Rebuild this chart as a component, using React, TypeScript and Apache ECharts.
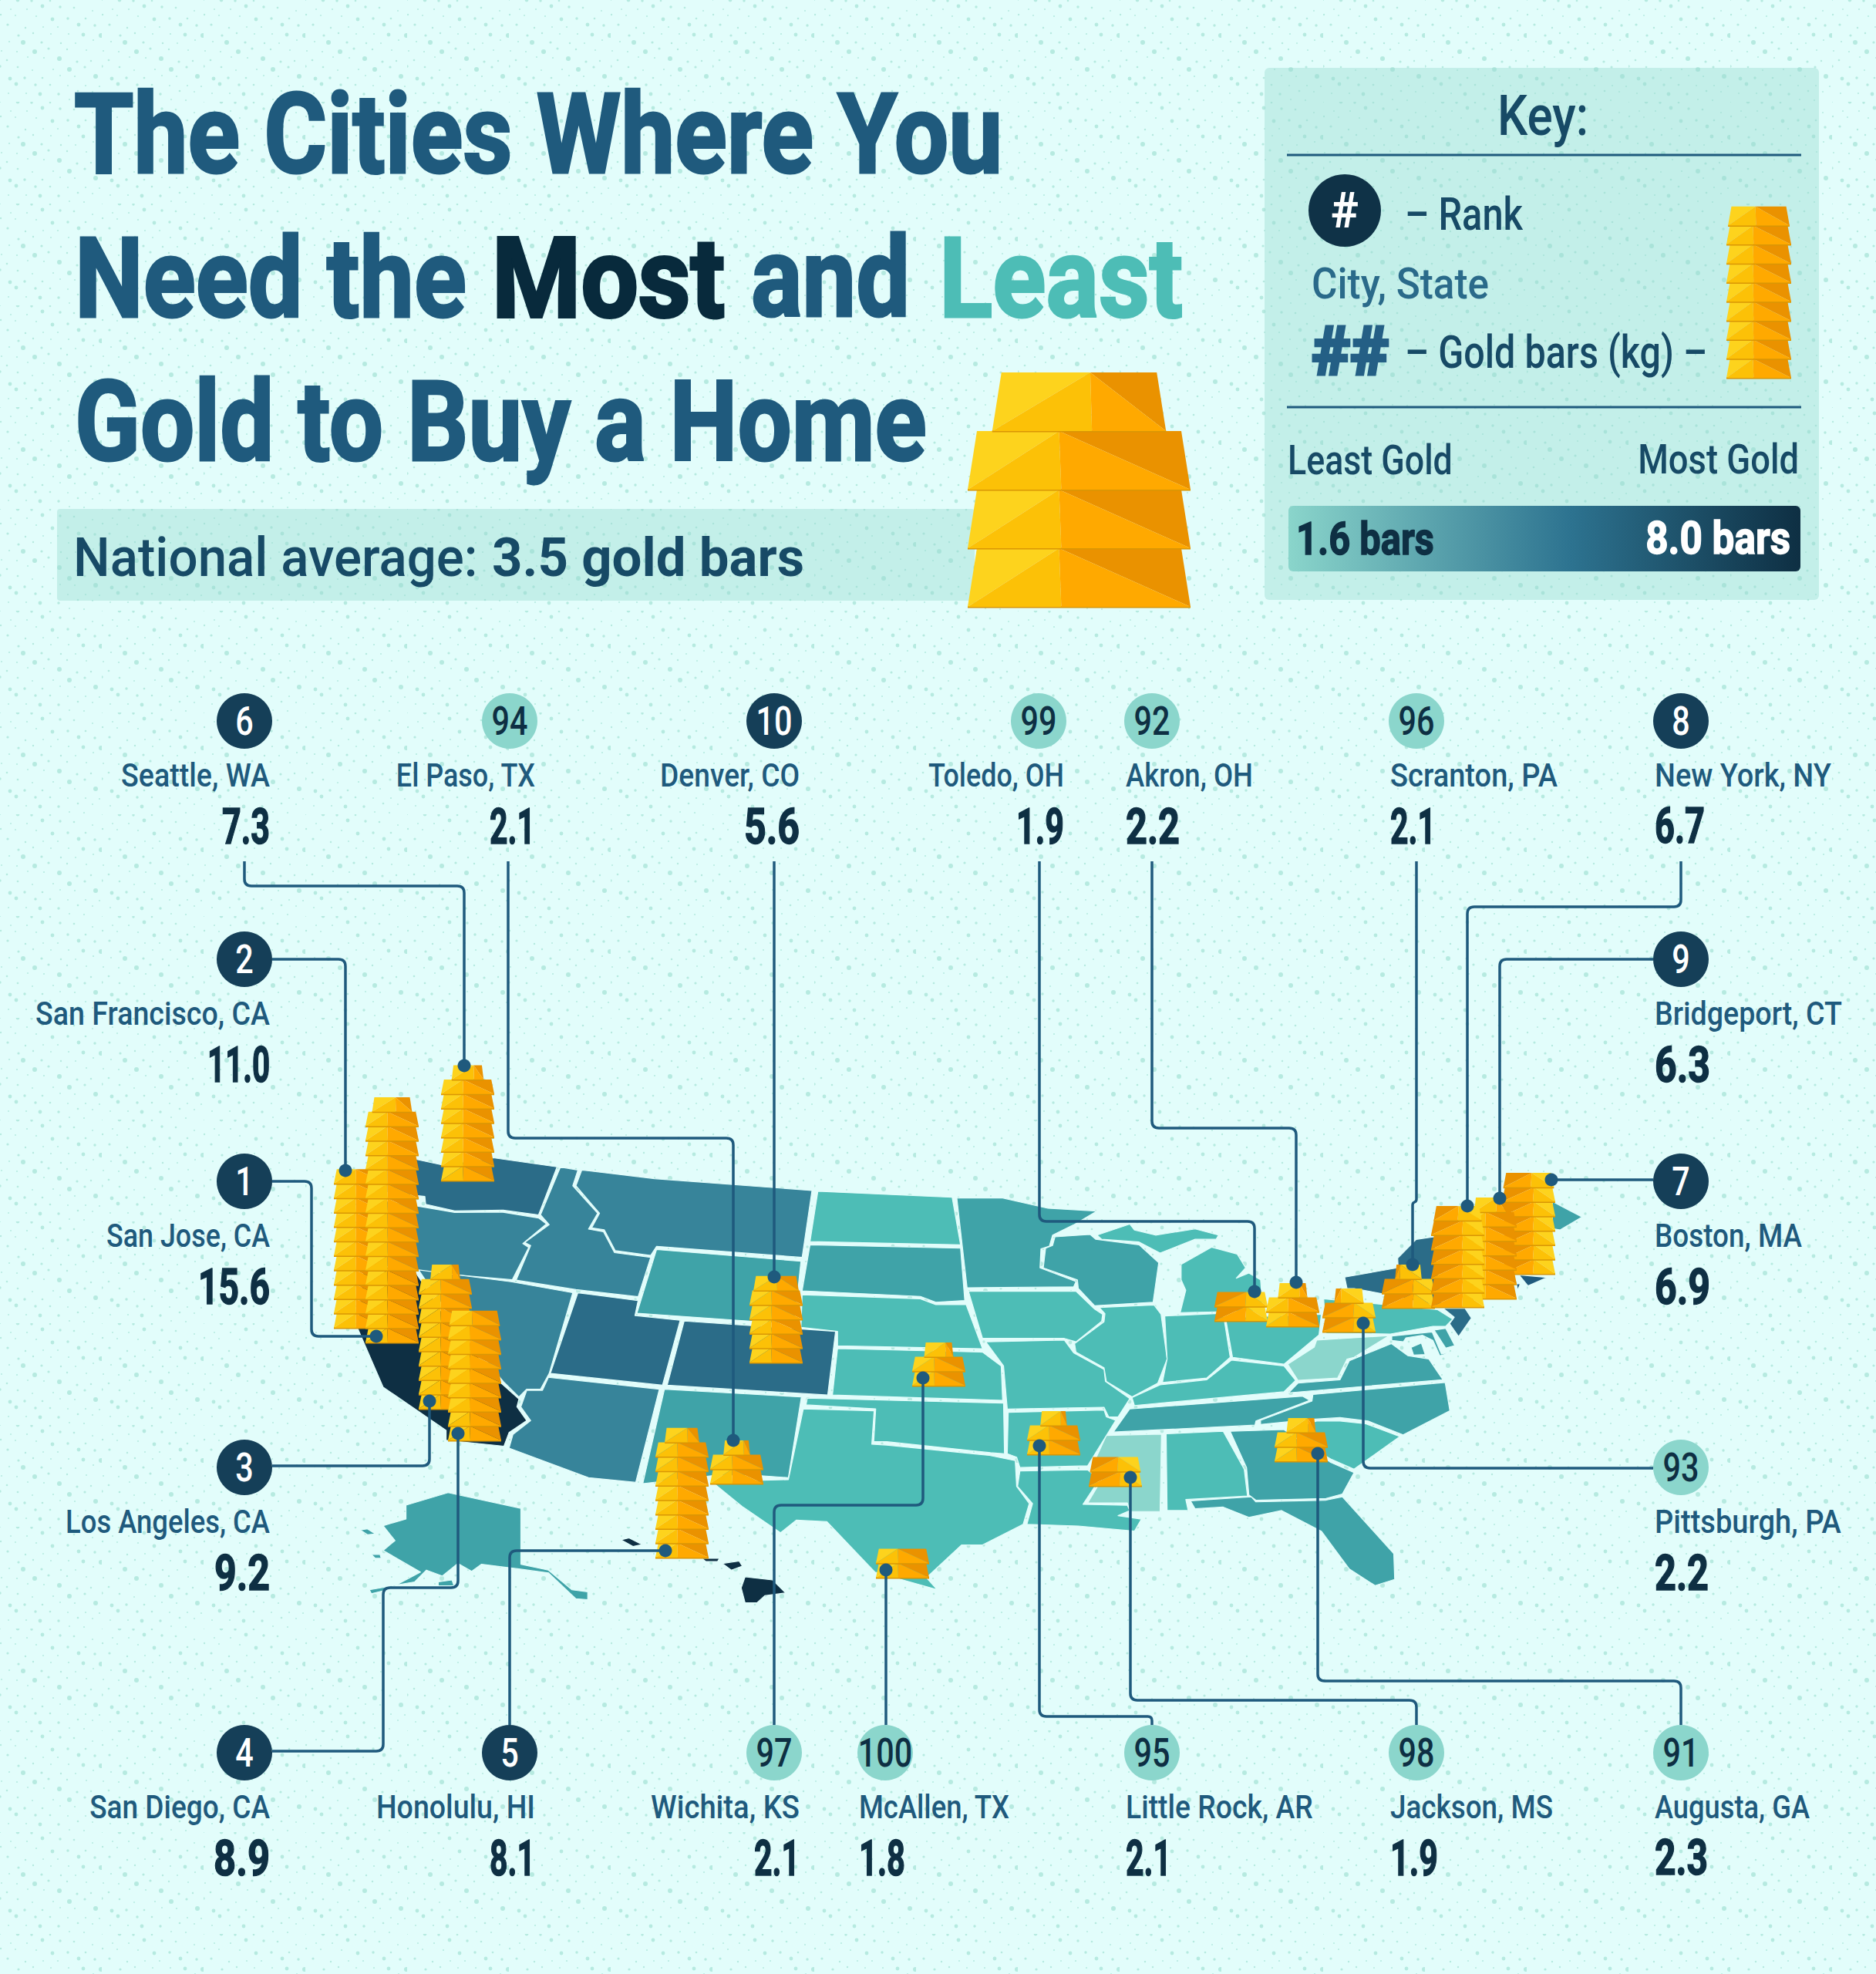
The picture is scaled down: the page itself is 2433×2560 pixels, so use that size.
import { useEffect, useRef } from 'react';
import * as echarts from 'echarts';

const WIDTH = 2433;
const HEIGHT = 2560;
const FONT = '"Liberation Sans Narrow", Roboto, sans-serif';
const BG = '#e2fdfb';

const NAVY = '#0e2f43';
const BLUE = '#1f5a7d';
const DARK = '#2b6c88';
const STEEL = '#37849a';
const MID = '#3fa3a8';
const TEAL = '#4dbdb6';
const PALE = '#8bd6cc';

// cities, in draw order of the gold stacks (back to front)
const cities = ['San Francisco, CA', 'San Jose, CA', 'Los Angeles, CA', 'San Diego, CA', 'Seattle, WA', 'Honolulu, HI', 'El Paso, TX', 'Denver, CO', 'Wichita, KS', 'McAllen, TX', 'Little Rock, AR', 'Jackson, MS', 'Augusta, GA', 'Toledo, OH', 'Akron, OH', 'Pittsburgh, PA', 'Boston, MA', 'Bridgeport, CT', 'Scranton, PA', 'New York, NY'];
const ranks = [2, 1, 3, 4, 6, 5, 94, 10, 97, 100, 95, 98, 91, 99, 92, 93, 7, 9, 96, 8];
const goldKg = ['11.0', '15.6', '9.2', '8.9', '7.3', '8.1', '2.1', '5.6', '2.1', '1.8', '2.1', '1.9', '2.3', '1.9', '2.2', '2.2', '6.9', '6.3', '2.1', '6.7'];
const tierCounts = [11, 17, 10, 9, 8, 9, 3, 6, 3, 2, 3, 2, 3, 2, 3, 3, 7, 7, 3, 7];
const topBarWidth = [1, 0.75, 0.56, 0.95, 0.6, 0.65, 0.5, 0.85, 0.55, 1, 0.5, 0.95, 0.55, 1, 0.55, 0.55, 0.95, 0.6, 0.5, 0.9];
const stackLeft = [433, 474, 543, 581, 572, 850, 921, 972, 1183, 1136, 1332, 1412, 1653, 1575, 1642, 1715, 1948, 1898, 1792, 1856];
const stackBottom = [1722, 1741, 1827, 1868, 1531, 2020, 1924, 1767, 1797, 2046, 1886, 1927, 1895, 1713, 1720, 1727, 1652, 1684, 1696, 1695];
const stackFlipped = [false, false, false, false, false, false, false, false, false, false, false, true, false, true, false, true, true, false, true, true];
const badgeX = [317, 317, 317, 317, 317, 661, 661, 1004, 1004, 1148, 1494, 1837, 2180, 1347, 1494, 2180, 2180, 2180, 1837, 2180];
const badgeY = [1244, 1532, 1903, 2273, 935, 2273, 935, 935, 2273, 2273, 2273, 2273, 2273, 935, 935, 1903, 1532, 1244, 935, 935];
const labelSide = ['r', 'r', 'r', 'r', 'r', 'r', 'r', 'r', 'r', 'l', 'l', 'l', 'l', 'r', 'l', 'l', 'l', 'l', 'l', 'l'];

// the reference's condensed face has its own widths, so each label gets squeezed to what it measures there
const cityWidths = [304, 212, 265, 234, 193, 206, 181, 181, 193, 196, 243, 211, 201, 176, 165, 242, 191, 243, 217, 229];
const valueWidths: Record<string, number> = { '11.0': 81, '15.6': 93, '9.2': 72, '8.9': 73, '7.3': 62, '8.1': 59, '2.1': 59, '5.6': 72, '1.8': 60, '1.9': 62, '2.3': 69, '2.2': 70, '6.9': 72, '6.3': 72, '6.7': 65 };

// leader lines, last point carries the dot
const leaders: number[][][] = [
  [[353, 1244], [448, 1244], [448, 1518]],
  [[353, 1532], [404, 1532], [404, 1733], [488, 1733]],
  [[353, 1901], [557, 1901], [557, 1817]],
  [[353, 2271], [497, 2271], [497, 2059], [594, 2059], [594, 1859]],
  [[317, 1117], [317, 1149], [602, 1149], [602, 1382]],
  [[661, 2237], [661, 2011], [863, 2011]],
  [[659, 1117], [659, 1476], [951, 1476], [951, 1868]],
  [[1004, 1117], [1004, 1656]],
  [[1004, 2237], [1004, 1952], [1197, 1952], [1197, 1787]],
  [[1149, 2237], [1149, 2036]],
  [[1494, 2237], [1494, 2226], [1348, 2226], [1348, 1875]],
  [[1837, 2237], [1837, 2205], [1466, 2205], [1466, 1916]],
  [[2180, 2237], [2180, 2180], [1709, 2180], [1709, 1885]],
  [[1348, 1117], [1348, 1584], [1627, 1584], [1627, 1675]],
  [[1494, 1117], [1494, 1463], [1681, 1463], [1681, 1663]],
  [[2144, 1904], [1768, 1904], [1768, 1716]],
  [[2144, 1530], [2012, 1530]],
  [[2144, 1244], [1945, 1244], [1945, 1554]],
  [[1837, 1117], [1837, 1558], [1832, 1560], [1832, 1640]],
  [[2180, 1117], [2180, 1176], [1903, 1176], [1903, 1564]],
];

type P = number[];
const w = (...a: number[]): P[] => { const r: P[] = []; for (let i = 0; i < a.length; i += 2) r.push([400 + a[i] / 1.96, 1350 + a[i + 1] / 1.96]); return r; };
const e = (...a: number[]): P[] => { const r: P[] = []; for (let i = 0; i < a.length; i += 2) r.push([1150 + a[i] / 1.65, 1450 + a[i + 1] / 2.24]); return r; };
const n = (...a: number[]): P[] => { const r: P[] = []; for (let i = 0; i < a.length; i += 2) r.push([1780 + a[i] / 3, 1500 + a[i + 1] / 3]); return r; };

const stateFills = [
  DARK, STEEL, NAVY, STEEL, STEEL, STEEL, MID, DARK, DARK, STEEL, MID, // WA..NM
  TEAL, MID, TEAL, TEAL, TEAL, TEAL, // ND..TX
  MID, MID, TEAL, TEAL, TEAL, TEAL, TEAL, TEAL, TEAL, MID, PALE, MID, MID, TEAL, MID, PALE, TEAL, TEAL, TEAL, TEAL, // MN..MO
  DARK, DARK, TEAL, MID, MID, MID, BLUE, BLUE, MID, // NY..ME
  MID, // FL
  MID, MID, MID, MID, // AK
  NAVY, NAVY, NAVY, NAVY, // HI
];
const stateShapes: P[][] = [
  w(200, 285, 340, 315, 470, 297, 632, 320, 585, 442, 495, 430, 372, 432, 298, 415, 296, 395, 200, 385), // WA
  w(160, 400, 280, 420, 372, 436, 492, 435, 585, 450, 605, 465, 545, 515, 560, 525, 518, 607, 150, 575), // OR
  w(125, 730, 190, 880, 350, 990, 350, 1015, 497, 1030, 510, 995, 555, 965, 530, 930, 535, 910, 490, 870, 360, 720, 270, 585, 140, 565), // CA
  w(280, 582, 515, 612, 672, 640, 612, 845, 590, 885, 555, 885, 535, 905, 495, 865, 370, 715), // NV
  w(650, 322, 685, 328, 672, 368, 735, 438, 712, 478, 750, 485, 778, 538, 870, 550, 838, 650, 680, 632, 528, 608, 565, 520, 550, 512, 612, 467, 590, 442, 640, 322), // ID
  w(695, 328, 880, 350, 1280, 380, 1255, 550, 885, 522, 870, 545, 780, 533, 752, 480, 720, 475, 740, 438, 680, 368), // MT
  w(885, 530, 1252, 560, 1235, 720, 835, 692), // WY
  w(685, 640, 838, 660, 830, 698, 945, 710, 900, 875, 615, 845), // UT
  w(955, 712, 1340, 738, 1320, 900, 912, 875), // CO
  w(610, 855, 892, 885, 832, 1122, 712, 1110, 510, 1035, 520, 1000, 565, 965, 540, 930, 555, 888, 595, 888), // AZ
  w(905, 885, 1253, 905, 1220, 1110, 1150, 1105, 1025, 1105, 850, 1125), // NM
  [...w(1295, 382), ...e(140, 230, 158, 368), ...w(1275, 510)], // ND
  [...w(1275, 518), ...e(158, 378, 167, 530, 105, 535, 72, 518), ...w(1255, 635)], // SD
  [...w(1255, 645), ...e(72, 525, 105, 542, 170, 542, 205, 670), ...w(1345, 775, 1345, 738, 1252, 728)], // NE
  [...w(1345, 782), ...e(205, 680, 245, 720, 248, 820), ...w(1332, 900)], // KS
  [...w(1268, 908), ...e(250, 828, 252, 975, 222, 972, 0, 940), ...w(1437, 1018, 1442, 935, 1265, 925)], // OK
  [...w(1258, 935, 1438, 940, 1432, 1025), ...e(0, 950, 220, 980, 275, 995, 278, 1070, 305, 1120, 292, 1180, 205, 1240, 160, 1240, 85, 1335, 108, 1370), ...w(1440, 1350, 1318, 1222, 1240, 1218, 1200, 1250, 1105, 1185, 1025, 1120, 1220, 1115)], // TX
  e(150, 232, 248, 232, 345, 262, 450, 270, 400, 310, 355, 340, 348, 372, 330, 380, 328, 435, 405, 475, 400, 490, 172, 493, 162, 375), // MN
  e(360, 345, 435, 338, 447, 352, 540, 368, 582, 420, 570, 535, 445, 545, 410, 495, 408, 470, 335, 435, 340, 378, 355, 370), // WI
  e(450, 340, 520, 308, 530, 325, 575, 340, 660, 322, 710, 340, 705, 352, 660, 352, 585, 392, 540, 360, 460, 352), // MI upper
  e(695, 375, 750, 395, 768, 435, 748, 465, 775, 450, 800, 470, 805, 560, 628, 565, 640, 500, 630, 470, 630, 425), // MI lower
  e(175, 503, 405, 503, 445, 555, 462, 570, 460, 590, 405, 650, 380, 640, 205, 640), // IA
  e(455, 550, 572, 543, 587, 570, 600, 700, 580, 770, 525, 810, 470, 765, 465, 725, 405, 680, 402, 655, 465, 592, 467, 568), // IL
  e(595, 575, 720, 567, 735, 695, 685, 755, 590, 768, 600, 700), // IN
  e(725, 580, 930, 570, 925, 630, 850, 715, 740, 695), // OH
  e(738, 703, 850, 720, 875, 762, 850, 795, 530, 835, 525, 812, 585, 775, 685, 760), // KY
  e(520, 845, 890, 808, 905, 820, 790, 880, 788, 892, 485, 912), // TN
  e(920, 645, 1075, 632, 1000, 695, 985, 700, 965, 755, 880, 762, 858, 715, 915, 665), // WV
  e(1080, 655, 1115, 690, 1160, 700, 1190, 760, 860, 798, 880, 770, 970, 760, 990, 705), // VA
  e(1195, 768, 1205, 850, 1105, 920, 1030, 880, 970, 870, 910, 875, 800, 890, 800, 878, 910, 822, 912, 803), // NC
  e(920, 880, 970, 880, 1025, 888, 1098, 925, 1000, 1020, 950, 990, 850, 910), // SC
  e(735, 910, 850, 905, 950, 1000, 1000, 1030, 975, 1092, 940, 1105, 790, 1110, 775, 1095, 770, 1015), // GA
  e(470, 922, 588, 918, 585, 1143, 520, 1143, 515, 1118, 430, 1118, 460, 1050, 437, 1020), // MS
  e(598, 917, 720, 910, 765, 1020, 772, 1098, 640, 1108, 645, 1140, 600, 1140), // AL
  e(285, 1025, 430, 1022, 455, 1050, 420, 1122, 515, 1125, 520, 1140, 495, 1155, 545, 1165, 530, 1200, 410, 1185, 300, 1180, 312, 1120, 280, 1070), // LA
  e(260, 855, 465, 848, 470, 868, 490, 878, 430, 1010, 285, 1015, 278, 985, 258, 975), // AR
  e(212, 650, 380, 645, 400, 682, 465, 730, 468, 765, 520, 815, 495, 868, 475, 868, 465, 840, 258, 845, 250, 720), // MO
  [...e(980, 462), ...n(100, 432, 98, 395, 170, 322, 240, 312, 270, 585, 30, 532), ...e(1000, 495, 985, 495)], // NY
  n(275, 590, 360, 590, 385, 628, 335, 700, 300, 650, 318, 625), // NJ
  [...e(935, 525), ...n(252, 595, 312, 632, 285, 660, 235, 660, 70, 690), ...e(940, 625)], // PA
  n(75, 698, 232, 682, 268, 768, 330, 755, 262, 775, 235, 715, 195, 695, 130, 705, 120, 720, 75, 715), // MD
  n(150, 742, 190, 725, 205, 770, 160, 772), // MD south
  n(240, 675, 285, 668, 320, 735, 285, 745), // DE
  n(570, 460, 680, 470, 605, 503), // Long Island
  n(560, 495, 575, 495, 565, 520), // RI
  n(700, 175, 815, 235, 730, 285, 700, 280), // ME
  e(650, 1112, 780, 1100, 790, 1115, 940, 1110, 975, 1100, 1085, 1265, 1087, 1340, 1045, 1358, 990, 1310, 930, 1200, 845, 1140, 775, 1160, 720, 1130, 660, 1135), // FL
  w(355, 1148, 540, 1188, 540, 1330, 610, 1345, 670, 1395, 710, 1400, 710, 1420, 680, 1418, 610, 1352, 535, 1342, 440, 1330, 415, 1348, 380, 1328, 340, 1360, 300, 1345, 270, 1375, 155, 1395, 160, 1405, 200, 1395, 285, 1350, 190, 1295, 220, 1270, 190, 1232, 248, 1215, 248, 1180), // AK
  w(132, 1243, 150, 1240, 170, 1253, 150, 1255), // AK islands
  w(160, 1305, 182, 1305, 185, 1315, 170, 1315),
  w(330, 1375, 365, 1370, 370, 1385, 330, 1385),
  w(795, 1268, 815, 1263, 848, 1280, 825, 1285), // HI
  w(1000, 1315, 1045, 1315, 1040, 1323, 1010, 1323),
  w(1052, 1328, 1095, 1322, 1103, 1335, 1075, 1345),
  w(1100, 1390, 1110, 1362, 1180, 1370, 1213, 1403, 1160, 1410, 1140, 1428, 1110, 1428),
];

const canvasCtx = document.createElement('canvas').getContext('2d') as CanvasRenderingContext2D;
const fit = (text: string, size: number, weight: number, target: number) => {
  canvasCtx.font = `${weight} ${size}px ${FONT}`;
  return target / canvasCtx.measureText(text).width;
};

// speckle tile for the background
const speckleTile = () => {
  const c = document.createElement('canvas');
  c.width = 132;
  c.height = 132;
  const g = c.getContext('2d') as CanvasRenderingContext2D;
  g.fillStyle = BG;
  g.fillRect(0, 0, 132, 132);
  g.fillStyle = '#b6eae0';
  const jitter = [0, 2, -2, 1, -1, 3, -3, 0, 2, -1, 1];
  const radii = [1.1, 1.6, 1, 2.4, 1.2, 1.1, 1.7, 1, 3, 1.3];
  for (let r = 0; r < 12; r++) {
    for (let k = 0; k < 6; k++) {
      const x = (k * 22 + (r % 2) * 11 + jitter[(r * 5 + k * 3) % 11] + 132) % 132;
      const y = (r * 11 + jitter[(r * 3 + k * 7) % 11] + 132) % 132;
      g.beginPath();
      g.arc(x, y, radii[(r * 7 + k * 3) % 10], 0, Math.PI * 2);
      g.fill();
    }
  }
  return c;
};

const tierShapes = (api: any, x0: number, width: number, yb: number, th: number, flip: boolean, topW: number, children: any[]) => {
  const inset = Math.min(width * 0.055, 12);
  const x1 = x0 + width;
  const yt = yb - th;
  // a narrowed top bar looks cropped, so its ridge sits further over
  const split = flip ? 0.58 - (1 - topW) * 0.8 : 0.42 + (1 - topW) * 0.7;
  const cb = x0 + width * split;
  const ct = x0 + width * (flip ? split + 0.02 : split - 0.01);
  const poly = (pts: number[][], fill: string) =>
    children.push({ type: 'polygon', shape: { points: pts.map(q => api.coord(q)) }, style: { fill } });
  poly([[x0, yb + 1.5], [x1, yb + 1.5], [x1, yb - 1], [x0, yb - 1]], '#d99605');
  if (flip) {
    poly([[x1, yb], [x1 - inset, yt], [ct, yt]], '#fdd31d');
    poly([[x1, yb], [ct, yt], [cb, yb]], '#fcc107');
    poly([[ct, yt], [x0 + inset, yt], [x0, yb]], '#ea9200');
    poly([[ct, yt], [x0, yb], [cb, yb]], '#ffa900');
  } else {
    poly([[x0, yb], [x0 + inset, yt], [ct, yt]], '#fdd31d');
    poly([[x0, yb], [ct, yt], [cb, yb]], '#fcc107');
    poly([[ct, yt], [x1 - inset, yt], [x1, yb]], '#ea9200');
    poly([[ct, yt], [x1, yb], [cb, yb]], '#ffa900');
  }
};

const stackItem = (api: any, x0: number, width: number, yb: number, th: number, count: number, topW: number, flip: boolean) => {
  const children: any[] = [];
  for (let i = 0; i < count; i++) {
    const isTop = i === count - 1;
    const tw = isTop ? width * topW : width;
    tierShapes(api, x0 + (width - tw) / 2, tw, yb - i * th, th, flip, isTop ? topW : 1, children);
  }
  return { type: 'group', children };
};

const elbowPath = (pts: number[][], radius: number) => {
  let d = `M${pts[0][0]} ${pts[0][1]}`;
  for (let i = 1; i < pts.length - 1; i++) {
    const [ax, ay] = pts[i - 1];
    const [bx, by] = pts[i];
    const [cx, cy] = pts[i + 1];
    const l1 = Math.hypot(bx - ax, by - ay) || 1;
    const l2 = Math.hypot(cx - bx, cy - by) || 1;
    const r = Math.min(radius, l1 / 2, l2 / 2);
    d += `L${bx - ((bx - ax) / l1) * r} ${by - ((by - ay) / l1) * r}`;
    d += `Q${bx} ${by} ${bx + ((cx - bx) / l2) * r} ${by + ((cy - by) / l2) * r}`;
  }
  const last = pts[pts.length - 1];
  return `${d}L${last[0]} ${last[1]}`;
};

const label = (text: string, x: number, y: number, size: number, weight: number, fill: string, align: string, scaleX: number, stroke = 0) => ({
  type: 'text',
  x,
  y,
  scaleX,
  style: {
    text,
    fill,
    fontFamily: FONT,
    fontSize: size,
    fontWeight: weight,
    align,
    textAlign: align,
    verticalAlign: 'middle',
    textVerticalAlign: 'middle',
    ...(stroke ? { stroke: fill, lineWidth: stroke } : {}),
  },
});

const fitted = (text: string, x: number, y: number, size: number, weight: number, fill: string, target: number, align = 'left', stroke = 0) =>
  label(text, x, y, size, weight, fill, align, fit(text, size, weight, target), stroke);

export default function App() {
  const chartRef = useRef<HTMLDivElement>(null);

  useEffect(() => {
    if (!chartRef.current) return;
    const chart = echarts.init(chartRef.current, null, { renderer: 'svg' });

    const rankScale = fit('94', 52, 500, 47);
    const panelFill = 'rgba(151,218,208,0.4)';

    const option: any = {
      animation: false,
      grid: { left: 0, right: 0, top: 0, bottom: 0 },
      xAxis: { type: 'value', min: 0, max: WIDTH, show: false },
      yAxis: { type: 'value', min: 0, max: HEIGHT, inverse: true, show: false },
      graphic: [
        { type: 'rect', shape: { x: 0, y: 0, width: WIDTH, height: HEIGHT }, style: { fill: { image: speckleTile(), repeat: 'repeat' } } },
        // national average band
        { type: 'rect', shape: { x: 74, y: 660, width: 1190, height: 119, r: 4 }, style: { fill: panelFill } },
        fitted('National average:', 95, 723, 70, 500, '#174a66', 525),
        fitted('3.5 gold bars', 638, 723, 70, 700, '#174a66', 405),
        // title
        fitted('The Cities Where You', 96, 174, 145, 700, BLUE, 1205, 'left', 3),
        fitted('Need the', 97, 361, 145, 700, BLUE, 508, 'left', 3),
        fitted('Most', 638, 361, 145, 700, '#082a3c', 302, 'left', 4),
        fitted('and', 974, 361, 145, 700, BLUE, 206, 'left', 3),
        fitted('Least', 1218, 361, 145, 700, TEAL, 316, 'left', 3),
        fitted('Gold to Buy a Home', 97, 548, 145, 700, BLUE, 1105, 'left', 3),
        // key
        { type: 'rect', shape: { x: 1640, y: 88, width: 719, height: 690, r: 6 }, style: { fill: panelFill } },
        fitted('Key:', 2001, 150, 72, 500, '#174a66', 118, 'center'),
        { type: 'line', shape: { x1: 1669, y1: 201, x2: 2336, y2: 201 }, style: { stroke: BLUE, lineWidth: 3 } },
        { type: 'line', shape: { x1: 1669, y1: 528, x2: 2336, y2: 528 }, style: { stroke: BLUE, lineWidth: 3 } },
        { type: 'circle', shape: { cx: 1744, cy: 273, r: 47 }, style: { fill: '#0f3247' } },
        fitted('#', 1744, 273, 64, 700, '#ffffff', 36, 'center'),
        fitted('– Rank', 1822, 277, 60, 500, '#174a66', 153),
        fitted('City, State', 1701, 368, 56, 500, '#2a6a8a', 230),
        fitted('##', 1701, 455, 88, 700, '#245f85', 100, 'left', 4),
        fitted('– Gold bars (kg) –', 1822, 456, 60, 500, '#174a66', 392),
        fitted('Least Gold', 1670, 596, 54, 500, '#174a66', 214),
        fitted('Most Gold', 2333, 596, 54, 500, '#174a66', 209, 'right'),
        {
          type: 'rect',
          shape: { x: 1671, y: 656, width: 664, height: 85, r: 6 },
          style: {
            fill: {
              type: 'linear', x: 0, y: 0, x2: 1, y2: 0,
              colorStops: [
                { offset: 0, color: '#8ad5cb' },
                { offset: 0.55, color: '#2d7390' },
                { offset: 1, color: '#0e2f43' },
              ],
            },
          },
        },
        fitted('1.6 bars', 1681, 698, 60, 700, NAVY, 179, 'left', 1.5),
        fitted('8.0 bars', 2322, 698, 60, 700, '#ffffff', 188, 'right', 1.5),
      ],
      series: [
        {
          type: 'custom',
          name: 'states',
          silent: true,
          clip: false,
          z: 2,
          data: stateShapes.map((_, i) => [i, 0]),
          renderItem: (params: any, api: any) => ({
            type: 'polygon',
            shape: { points: stateShapes[params.dataIndex].map(q => api.coord(q)) },
            style: { fill: stateFills[params.dataIndex], stroke: BG, lineWidth: 1.2, lineJoin: 'round' },
          }),
        },
        {
          type: 'custom',
          name: 'gold',
          silent: true,
          clip: false,
          z: 3,
          data: cities.map((_, i) => [i, 0]),
          renderItem: (params: any, api: any) => {
            const i = params.dataIndex;
            return stackItem(api, stackLeft[i], 69, stackBottom[i], 18.7, tierCounts[i], topBarWidth[i], stackFlipped[i]);
          },
        },
        {
          type: 'custom',
          name: 'header gold',
          silent: true,
          clip: false,
          z: 3,
          data: [[0, 0], [1, 0]],
          renderItem: (params: any, api: any) =>
            params.dataIndex === 0
              ? stackItem(api, 1255, 289, 787, 76, 4, 0.78, false)
              : stackItem(api, 2239, 84, 490, 24.7, 9, 0.95, false),
        },
        {
          type: 'custom',
          name: 'leaders',
          silent: true,
          clip: false,
          z: 4,
          data: cities.map((_, i) => [i, 0]),
          renderItem: (params: any, api: any) => {
            const pts = leaders[params.dataIndex].map(q => api.coord(q));
            const end = pts[pts.length - 1];
            return {
              type: 'group',
              children: [
                { type: 'path', shape: { pathData: elbowPath(pts, 9) }, style: { fill: 'none', stroke: BLUE, lineWidth: 3.5 } },
                { type: 'circle', shape: { cx: end[0], cy: end[1], r: 8.5 }, style: { fill: BLUE } },
              ],
            };
          },
        },
        {
          type: 'custom',
          name: 'labels',
          silent: true,
          clip: false,
          z: 5,
          data: cities.map((_, i) => [i, 0]),
          renderItem: (params: any, api: any) => {
            const i = params.dataIndex;
            const [cx, cy] = api.coord([badgeX[i], badgeY[i]]);
            const top = ranks[i] <= 10;
            const right = labelSide[i] === 'r';
            const tx = right ? cx + 33 : cx - 34;
            const align = right ? 'right' : 'left';
            return {
              type: 'group',
              children: [
                { type: 'circle', shape: { cx, cy, r: 36 }, style: { fill: top ? '#153f58' : PALE } },
                label(String(ranks[i]), cx, cy, 52, 500, top ? '#ffffff' : NAVY, 'center', rankScale),
                label(cities[i], tx, cy + 71, 42, 500, BLUE, align, fit(cities[i], 42, 500, cityWidths[i])),
                label(goldKg[i], tx, cy + 137, 64, 700, NAVY, align, fit(goldKg[i], 64, 700, valueWidths[goldKg[i]]), 1.5),
              ],
            };
          },
        },
      ],
    };

    chart.setOption(option);
    return () => chart.dispose();
  }, []);

  return <div ref={chartRef} style={{ position: 'absolute', left: 0, top: 0, width: WIDTH, height: HEIGHT }} />;
}
